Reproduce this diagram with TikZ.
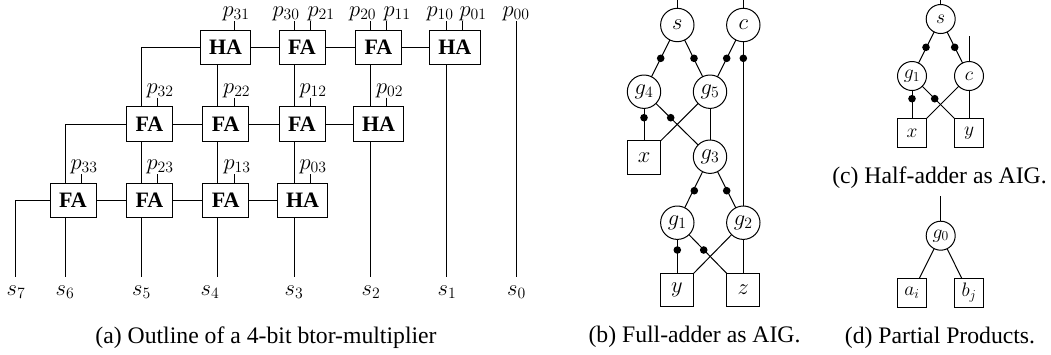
\RequirePackage{fix-cm}
\documentclass[tikz,border=0pt]{standalone}
\usepackage{fontspec}
\setmainfont{Liberation Serif}
\tikzset{
  lbl/.style={anchor=base,inner sep=0pt,font=\fontsize{22.5}{26}\selectfont},
  capt/.style={anchor=base,inner sep=0pt,font=\fontsize{23.7}{28}\selectfont},
  adder/.style={draw,line width=1pt,minimum width=46pt,minimum height=34.5pt,inner sep=0pt,outer sep=0pt,font=\fontsize{22}{26}\selectfont\bfseries},
  hadder/.style={adder,minimum width=50.5pt},
  gateb/.style={draw,circle,line width=1pt,minimum size=33.4pt,inner sep=0pt,outer sep=0pt,font=\fontsize{22.5}{26}\selectfont},
  inb/.style={draw,line width=1pt,minimum size=33.2pt,inner sep=0pt,outer sep=0pt,font=\fontsize{22.5}{26}\selectfont},
  gatec/.style={draw,circle,line width=1pt,minimum size=29pt,inner sep=0pt,outer sep=0pt,font=\fontsize{19.5}{23}\selectfont},
  inc/.style={draw,line width=1pt,minimum size=28.8pt,inner sep=0pt,outer sep=0pt,font=\fontsize{19.5}{23}\selectfont},
  dotm/.style={fill=black,circle,minimum size=7.6pt,inner sep=0pt,outer sep=0pt},
  wire/.style={line width=1pt}
}
\begin{document}
\begin{tikzpicture}[x=1pt,y=-1pt]
\useasboundingbox (0,0) rectangle (1051,354);
% boxes
\node[hadder] (a1) at (225.5,47.7) {HA};
\node[adder]  (a2) at (302,47.7) {FA};
\node[adder]  (a3) at (378.5,47.7) {FA};
\node[hadder] (a4) at (454.75,47.7) {HA};
\node[adder]  (b1) at (149.5,124) {FA};
\node[adder]  (b2) at (225.7,124) {FA};
\node[adder]  (b3) at (302,124) {FA};
\node[hadder] (b4) at (378.5,124) {HA};
\node[adder]  (d1) at (73,200.5) {FA};
\node[adder]  (d2) at (149.5,200.5) {FA};
\node[adder]  (d3) at (225.7,200.5) {FA};
\node[hadder] (d4) at (302.5,200.5) {HA};
% column coordinates
\coordinate (cs7) at (15.3,276.7);
\coordinate (cs6) at (65,276.7);
\coordinate (cs5) at (141,276.7);
\coordinate (cs4) at (217.7,276.7);
\coordinate (cs3) at (294,276.7);
\coordinate (cs2) at (370.3,276.7);
\coordinate (cs1) at (446.7,276.7);
\coordinate (cs0) at (516,276.7);
\coordinate (tp0) at (516,21);
% horizontals
\draw[wire] (a1) -- (a2) (a2) -- (a3) (a3) -- (a4);
\draw[wire] (b1) -- (b2) (b2) -- (b3) (b3) -- (b4);
\draw[wire] (d1) -- (d2) (d2) -- (d3) (d3) -- (d4);
\draw[wire] (a1.west) -| (cs5 |- b1.north);
\draw[wire] (b1.west) -| (cs6 |- d1.north);
\draw[wire] (d1.west) -| (cs7);
% verticals
\draw[wire] (cs4 |- a1.south) -- (cs4 |- b2.north);
\draw[wire] (cs3 |- a2.south) -- (cs3 |- b3.north);
\draw[wire] (cs2 |- a3.south) -- (cs2 |- b4.north);
\draw[wire] (cs1 |- a4.south) -- (cs1);
\draw[wire] (cs5 |- b1.south) -- (cs5 |- d2.north);
\draw[wire] (cs4 |- b2.south) -- (cs4 |- d3.north);
\draw[wire] (cs3 |- b3.south) -- (cs3 |- d4.north);
\draw[wire] (cs2 |- b4.south) -- (cs2);
\draw[wire] (cs6 |- d1.south) -- (cs6);
\draw[wire] (cs5 |- d2.south) -- (cs5);
\draw[wire] (cs4 |- d3.south) -- (cs4);
\draw[wire] (cs3 |- d4.south) -- (cs3);
\draw[wire] (tp0) -- (cs0);
% stubs
\coordinate (t31) at (234,21);
\coordinate (t30) at (294,21);
\coordinate (t21) at (310,21);
\coordinate (t20) at (370.3,21);
\coordinate (t11) at (386.7,21);
\coordinate (t10) at (446.7,21);
\coordinate (t01) at (462.7,21);
\coordinate (t32) at (157.3,97.5);
\coordinate (t22) at (234,97.5);
\coordinate (t12) at (310,97.5);
\coordinate (t02) at (386.7,97.5);
\coordinate (t33) at (81,174);
\coordinate (t23) at (157.3,174);
\coordinate (t13) at (234,174);
\coordinate (t03) at (310,174);
\draw[wire] (t31) -- (t31 |- a1.north);
\draw[wire] (t30) -- (t30 |- a2.north);
\draw[wire] (t21) -- (t21 |- a2.north);
\draw[wire] (t20) -- (t20 |- a3.north);
\draw[wire] (t11) -- (t11 |- a3.north);
\draw[wire] (t10) -- (t10 |- a4.north);
\draw[wire] (t01) -- (t01 |- a4.north);
\draw[wire] (t32) -- (t32 |- b1.north);
\draw[wire] (t22) -- (t22 |- b2.north);
\draw[wire] (t12) -- (t12 |- b3.north);
\draw[wire] (t02) -- (t02 |- b4.north);
\draw[wire] (t33) -- (t33 |- d1.north);
\draw[wire] (t23) -- (t23 |- d2.north);
\draw[wire] (t13) -- (t13 |- d3.north);
\draw[wire] (t03) -- (t03 |- d4.north);
% labels
\node[lbl] (lp31) at (236,16.5) {$p_{31}$};
\node[lbl] (lp30) at (286,16.5) {$p_{30}$};
\node[lbl] (lp21) at (321,16.5) {$p_{21}$};
\node[lbl] (lp20) at (362.7,16.5) {$p_{20}$};
\node[lbl] (lp11) at (397,16.5) {$p_{11}$};
\node[lbl] (lp10) at (440,16.5) {$p_{10}$};
\node[lbl] (lp01) at (473,16.5) {$p_{01}$};
\node[lbl] (lp00) at (516,16.5) {$p_{00}$};
\node[lbl] (lp32) at (160,93) {$p_{32}$};
\node[lbl] (lp22) at (236.7,93) {$p_{22}$};
\node[lbl] (lp12) at (313,93) {$p_{12}$};
\node[lbl] (lp02) at (389.6,93) {$p_{02}$};
\node[lbl] (lp33) at (84,169.5) {$p_{33}$};
\node[lbl] (lp23) at (160,169.5) {$p_{23}$};
\node[lbl] (lp13) at (237,169.5) {$p_{13}$};
\node[lbl] (lp03) at (313,169.5) {$p_{03}$};
\node[lbl] (ls7) at (16,295) {$s_7$};
\node[lbl] (ls6) at (65,295) {$s_6$};
\node[lbl] (ls5) at (141.5,295) {$s_5$};
\node[lbl] (ls4) at (210,295) {$s_4$};
\node[lbl] (ls3) at (294,295) {$s_3$};
\node[lbl] (ls2) at (371,295) {$s_2$};
\node[lbl] (ls1) at (447,295) {$s_1$};
\node[lbl] (ls0) at (516.5,295) {$s_0$};
\node[capt] (capa) at (266,343) {(a) Outline of a 4-bit btor-multiplier};
% full adder
\node[gateb] (bs) at (677.3,25) {$s$};
\node[gateb] (bc) at (743.3,25) {$c$};
\node[gateb] (g4) at (644,91.7) {$g_4$};
\node[gateb] (g5) at (710,91.7) {$g_5$};
\node[gateb] (g3) at (710,156.7) {$g_3$};
\node[inb]   (bx) at (644,157.5) {$x$};
\node[gateb] (g1) at (677.3,222.7) {$g_1$};
\node[gateb] (g2) at (743.3,222.7) {$g_2$};
\node[inb]   (by) at (677,290) {$y$};
\node[inb]   (bz) at (743.3,290) {$z$};
\coordinate (bst) at (677.3,0);
\coordinate (bct) at (743.3,0);
\draw[wire] (bst) -- (bs);
\draw[wire] (bct) -- (bc);
\draw[wire] (bs) -- (g4);
\draw[wire] (bs) -- (g5);
\draw[wire] (bc) -- (g5);
\draw[wire] (bc) -- (g2.north -| bc);
\draw[wire] (g4) -- (bx.north -| g4);
\draw[wire] (g4) -- (g3);
\draw[wire] (g5) -- (bx.north east);
\draw[wire] (g5) -- (g3);
\draw[wire] (g3) -- (g1);
\draw[wire] (g3) -- (g2);
\draw[wire] (g1) -- (by.north -| g1);
\draw[wire] (g1) -- (bz.north west);
\draw[wire] (g2) -- (by.north east);
\draw[wire] (g2) -- (bz);
\node[dotm] (b1d) at (660.7,58.3) {};
\node[dotm] (b2d) at (694,58.3) {};
\node[dotm] (b3d) at (726.7,58.3) {};
\node[dotm] (b4d) at (743.3,58.3) {};
\node[dotm] (b5d) at (644,117.7) {};
\node[dotm] (b6d) at (670.7,117.7) {};
\node[dotm] (b7d) at (694.3,190.7) {};
\node[dotm] (b8d) at (726.7,190.7) {};
\node[dotm] (b9d) at (677.3,250) {};
\node[dotm] (b10d) at (703.7,250) {};
\node[capt] (capb) at (694.5,342.5) {(b) Full-adder as AIG.};
% half adder
\node[gatec] (cs) at (940.7,19) {$s$};
\node[gatec] (cc) at (969,76) {$c$};
\node[gatec] (cg) at (912,76) {$g_1$};
\node[inc]   (cx) at (912,133) {$x$};
\node[inc]   (cy) at (969,133) {$y$};
\coordinate (cst) at (940.7,0);
\coordinate (cct) at (969,36);
\draw[wire] (cst) -- (cs);
\draw[wire] (cct) -- (cc);
\draw[wire] (cs) -- (cg);
\draw[wire] (cs) -- (cc);
\draw[wire] (cg) -- (cx);
\draw[wire] (cg) -- (cy.north west);
\draw[wire] (cc) -- (cx.north east);
\draw[wire] (cc) -- (cy);
\node[dotm] (c1d) at (926,47.3) {};
\node[dotm] (c2d) at (954.7,47.3) {};
\node[dotm] (c3d) at (912,98.7) {};
\node[dotm] (c4d) at (934.7,98.7) {};
\node[capt] (capc) at (939.5,183.5) {(c) Half-adder as AIG.};
% partial product
\node[gatec] (g0) at (940.7,235.7) {$g_0$};
\node[inc]   (ai) at (912,293) {$a_i$};
\node[inc]   (bj) at (969,293) {$b_j$};
\coordinate (g0t) at (940.7,196);
\draw[wire] (g0t) -- (g0);
\draw[wire] (g0) -- (ai);
\draw[wire] (g0) -- (bj);
\node[capt] (capd) at (940,343) {(d) Partial Products.};
\end{tikzpicture}
\end{document}
